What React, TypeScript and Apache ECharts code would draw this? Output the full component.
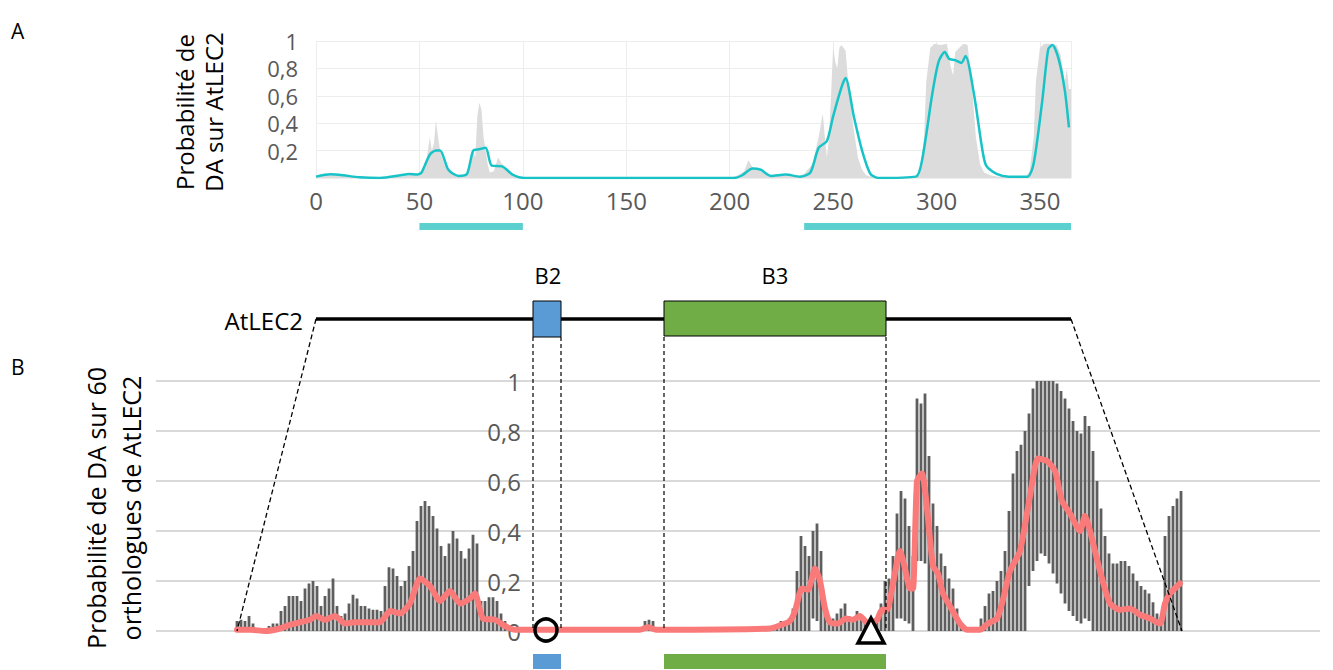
import React, { useEffect, useRef } from 'react';
import * as echarts from 'echarts';

// ---------- Panel A : AtLEC2 (amino-acid positions) ----------
const smoothPos = [0,7,13,21,31,41,45,49,51,55,58,60,64,69,73,76,79,82,85,90,95,101,195,202,206,211,215,220,227,234,239,243,247,250,254,256,260,264,268,272,290,293,298,301,304,306,309,312,314,318,322,324,329,335,344,347,351,354,356,359,362,364];
const smoothVal = [0.01,0.027,0.02,0.005,0,0.02,0.03,0.025,0.04,0.17,0.2,0.2,0.06,0.015,0.03,0.2,0.21,0.22,0.09,0.085,0.025,0,0,0,0.02,0.07,0.06,0.015,0.025,0.01,0.04,0.22,0.27,0.45,0.66,0.73,0.45,0.2,0.03,0,0.01,0.13,0.62,0.85,0.92,0.87,0.86,0.84,0.89,0.62,0.22,0.09,0.03,0.01,0.01,0.11,0.55,0.94,0.97,0.87,0.64,0.37];
const rawPos = [0,5,10,15,20,30,40,45,50,53,55,56,57,58,59,60,62,64,66,68,72,74,76,77,78,79,80,81,82,83,84,86,88,90,92,95,98,101,200,204,207,209,211,213,216,220,225,232,236,240,243,245,246,247,248,249,250,251,252,253,254,256,257,258,260,262,264,266,270,290,292,294,295,297,299,302,305,307,308,309,311,313,315,317,319,321,323,326,330,343,345,347,348,350,352,356,358,360,362,363,364,365];
const rawVal = [0.01,0.02,0.02,0.01,0.005,0,0.01,0.02,0.03,0.08,0.3,0.2,0.25,0.42,0.3,0.2,0.1,0.06,0.03,0.01,0.02,0.05,0.2,0.15,0.45,0.55,0.5,0.3,0.2,0.1,0.04,0.05,0.15,0.1,0.06,0.03,0.01,0,0,0.02,0.05,0.13,0.08,0.06,0.04,0.01,0.02,0.01,0.03,0.1,0.3,0.47,0.3,0.15,0.3,0.6,0.96,0.85,0.8,0.95,0.97,0.93,0.75,0.6,0.35,0.15,0.06,0.02,0,0,0.05,0.3,0.7,0.95,0.98,0.97,0.98,0.8,0.75,0.92,0.95,0.98,0.97,0.7,0.3,0.1,0.04,0.02,0.01,0.01,0.05,0.3,0.7,0.95,0.98,0.98,0.97,0.9,0.7,0.8,0.65,0.65];
const regionStart = [50, 236];
const regionEnd = [100, 365];
const aTicksY = [0, 0.2, 0.4, 0.6, 0.8, 1];

// ---------- Panel B : 60 orthologues (alignment columns) ----------
const colHigh = [
  0.04,0.045,0.04,0.06,0.03,0.01,0.005,0.005,0.02,0.03,
  0.03,0.08,0.1,0.14,0.14,0.14,0.12,0.17,0.19,0.2,
  0.18,0.1,0.14,0.17,0.21,0.1,0.06,0.07,0.11,0.145,
  0.13,0.1,0.1,0.09,0.085,0.085,0.08,0.18,0.255,0.25,
  0.22,0.18,0.2,0.26,0.32,0.44,0.5,0.52,0.5,0.46,
  0.41,0.34,0.3,0.35,0.4,0.37,0.32,0.29,0.33,0.385,
  0.35,0.12,0.12,0.135,0.135,0.12,0.07,0.04,0.01,0,
  0,0,0,0,0,0,0,0,0,0,
  0,0,0,0,0,0,0,0,0,0,
  0,0,0,0,0,0,0,0,0,0,
  0,0.01,0.04,0.045,0.04,0.005,0,0,0,0,
  0,0,0,0,0,0,0,0,0,0,
  0,0,0,0,0,0,0,0,0,0,
  0,0,0,0,0.01,0.02,0.04,0.04,0.05,0.09,
  0.24,0.38,0.34,0.3,0.4,0.43,0.32,0.07,0.05,0.05,
  0.07,0.09,0.11,0.06,0.04,0.08,0.06,0.035,0.03,0.02,
  0.05,0.11,0.2,0.21,0.3,0.47,0.56,0.53,0.42,0.3,
  0.93,0.91,0.95,0.7,0.51,0.42,0.31,0.26,0.21,0.17,
  0.09,0.02,0,0,0,0,0.05,0.1,0.15,0.16,
  0.2,0.24,0.32,0.48,0.63,0.72,0.745,0.8,0.87,0.97,
  1,1,1,1,1,0.99,0.96,0.93,0.89,0.84,
  0.8,0.79,0.86,0.82,0.72,0.6,0.49,0.38,0.31,0.27,
  0.27,0.28,0.28,0.26,0.23,0.2,0.18,0.165,0.15,0.115,
  0.07,0.035,0.38,0.46,0.5,0.53,0.56
];
const floatCols = [144,145,165,166,167,168,170,171,172,198,199,200,201,202,203,204,205,206,207,208,209,210,211,212,213];
const floatLows = [0.05,0.04,0.05,0.05,0.04,0.03,0.28,0.28,0.27,0.18,0.24,0.28,0.31,0.3,0.27,0.23,0.19,0.15,0.11,0.08,0.06,0.04,0.03,0.05,0.04];
const meanCols = [0,3.25,7,10.75,13.25,15.75,18.25,19.75,22,24.5,27,29.5,33.25,35.75,38.25,40.75,43.25,45.75,48.25,50.75,53.25,55.75,58.25,59.5,61.5,64.5,67,69.5,100.75,102.75,104.75,133.25,137,138.25,139.5,141.25,142.75,144.5,145.75,147,148.25,150.25,152.25,154,155.75,157.75,160,161.25,162.5,164,165.75,167,168.25,169,170,171.25,172.5,174,175.25,176.5,178.75,180.75,182.5,185.75,187.75,190,191.25,193.25,195.75,198.25,200.25,202.5,204.5,206.25,208.25,210.75,212,213.25,215.75,218.25,220.75,223.25,225.75,228.25,230.75,232,233.25,235.75];
const meanVals = [0.005,0.005,0,0.01,0.025,0.035,0.045,0.06,0.045,0.06,0.03,0.035,0.035,0.035,0.08,0.07,0.11,0.21,0.18,0.12,0.16,0.11,0.13,0.15,0.05,0.045,0.02,0.005,0.005,0.015,0.005,0.01,0.03,0.04,0.08,0.17,0.165,0.25,0.2,0.09,0.035,0.03,0.05,0.045,0.06,0.03,0.045,0.085,0.085,0.19,0.32,0.25,0.17,0.17,0.6,0.63,0.49,0.26,0.23,0.15,0.085,0.03,0.005,0.005,0.03,0.05,0.11,0.24,0.32,0.54,0.69,0.68,0.64,0.52,0.47,0.4,0.46,0.4,0.24,0.11,0.085,0.09,0.065,0.05,0.03,0.11,0.15,0.19];
const domainLabels = ['B2', 'B3'];

const FONT = "'Open Sans', 'Noto Sans', sans-serif";
const TICK = '#595959';
const fmt = (v: number) => String(Math.round(v * 10) / 10).replace('.', ',');

export default function App() {
  const ref = useRef<HTMLDivElement>(null);
  useEffect(() => {
    document.body.style.margin = '0';
    const chart = echarts.init(ref.current!, null, { renderer: 'svg' });
    const bars = colHigh.map((h, i) => {
      const k = floatCols.indexOf(i);
      return [i, k >= 0 ? floatLows[k] : 0, h];
    });
    chart.setOption({
      animation: false,
      backgroundColor: '#fff',
      textStyle: { fontFamily: FONT },
      grid: [
        { left: 316, top: 41, width: 755, height: 137, containLabel: false, outerBoundsMode: 'none' },
        { left: 156, top: 381, width: 1164, height: 250, containLabel: false, outerBoundsMode: 'none' },
      ],
      xAxis: [
        {
          gridIndex: 0, type: 'value', min: 0, max: 365, interval: 50,
          axisLine: { show: false }, axisTick: { show: false },
          axisLabel: { fontSize: 24, color: TICK, fontFamily: FONT, margin: 10, showMaxLabel: false },
          splitLine: { show: true, lineStyle: { color: '#ededed', width: 1 } },
        },
        { gridIndex: 1, type: 'value', min: -20.25, max: 270.75, show: false },
      ],
      yAxis: [
        {
          gridIndex: 0, type: 'value', min: aTicksY[0], max: aTicksY[aTicksY.length - 1], interval: 0.2,
          axisLine: { show: false }, axisTick: { show: false },
          axisLabel: { fontSize: 22, lineHeight: 18, color: TICK, fontFamily: FONT, margin: 18, formatter: (v: number) => (v === 0 ? '' : fmt(v)) },
          splitLine: { lineStyle: { color: '#ededed', width: 1 } },
        },
        {
          gridIndex: 1, type: 'value', min: 0, max: 1, interval: 0.2, offset: -369,
          axisLine: { show: false }, axisTick: { show: false },
          axisLabel: { fontSize: 24, color: TICK, fontFamily: FONT, margin: 4, formatter: (v: number) => fmt(v) },
          splitLine: { lineStyle: { color: '#d9d9d9', width: 2 } },
        },
      ],
      series: [
        {
          type: 'line', xAxisIndex: 0, yAxisIndex: 0, z: 1,
          data: rawPos.map((p, i) => [p, rawVal[i]]),
          showSymbol: false, lineStyle: { width: 0 }, areaStyle: { color: '#dcdcdc', opacity: 1 },
        },
        {
          type: 'line', xAxisIndex: 0, yAxisIndex: 0, z: 3,
          data: smoothPos.map((p, i) => [p, smoothVal[i]]),
          showSymbol: false, smooth: 0.25, lineStyle: { width: 2.5, color: '#18c3c8' },
        },
        {
          type: 'custom', xAxisIndex: 1, yAxisIndex: 1, z: 2,
          data: bars,
          encode: { x: 0, y: [1, 2] },
          renderItem: (_p: any, api: any) => {
            const c = api.value(0), lo = api.value(1), hi = api.value(2);
            if (hi <= lo) return null;
            const top = api.coord([c, hi]);
            const bot = api.coord([c, lo]);
            return { type: 'rect', shape: { x: top[0] - 1.4, y: top[1], width: 2.8, height: Math.max(0.5, bot[1] - top[1]) }, style: { fill: '#5e5e5e' } };
          },
        },
        {
          type: 'line', xAxisIndex: 1, yAxisIndex: 1, z: 4,
          data: meanCols.map((c, i) => [c, meanVals[i]]),
          showSymbol: false, smooth: 0.2,
          lineStyle: { width: 6, color: '#fa7a7a', cap: 'round', join: 'round' },
        },
      ],
    });

    const px = (v: number) => chart.convertToPixel({ xAxisIndex: 0 } as any, v) as number;
    const dash = { stroke: '#000', lineWidth: 1.3, lineDash: [5, 3] };
    const g: any[] = [];
    // panel letters and axis titles
    g.push({ type: 'text', x: 11, y: 20, z: 100, style: { text: 'A', fontSize: 21, fill: '#000', fontFamily: FONT } });
    g.push({ type: 'text', x: 11, y: 356, z: 100, style: { text: 'B', fontSize: 21, fill: '#000', fontFamily: FONT } });
    g.push({ type: 'text', x: 199, y: 112, rotation: Math.PI / 2, z: 100, style: { text: 'Probabilité de\nDA sur AtLEC2', fontSize: 24, lineHeight: 29, fill: '#000', fontFamily: FONT, align: 'center', verticalAlign: 'middle' } });
    g.push({ type: 'text', x: 113, y: 508, rotation: Math.PI / 2, z: 100, style: { text: 'Probabilité de DA sur 60\northologues de AtLEC2', fontSize: 25, lineHeight: 35, fill: '#000', fontFamily: FONT, align: 'center', verticalAlign: 'middle' } });
    // disordered regions under panel A
    regionStart.forEach((s, i) => {
      const x0 = px(s), x1 = px(regionEnd[i]);
      g.push({ type: 'rect', z: 100, shape: { x: x0, y: 223, width: x1 - x0, height: 7 }, style: { fill: '#5ccfcf' } });
    });
    // AtLEC2 protein diagram
    g.push({ type: 'text', x: 303, y: 320, z: 100, style: { text: 'AtLEC2', fontSize: 24, fill: '#000', fontFamily: FONT, align: 'right', verticalAlign: 'middle' } });
    g.push({ type: 'line', z: 100, shape: { x1: px(0), y1: 319, x2: px(365), y2: 319 }, style: { stroke: '#000', lineWidth: 3.5 } });
    g.push({ type: 'rect', z: 101, shape: { x: 533, y: 301, width: 28, height: 36 }, style: { fill: '#5b9bd5', stroke: '#000', lineWidth: 1 } });
    g.push({ type: 'rect', z: 101, shape: { x: 664, y: 301, width: 222, height: 35 }, style: { fill: '#70ad47', stroke: '#000', lineWidth: 1 } });
    g.push({ type: 'text', x: 548, y: 275, z: 100, style: { text: domainLabels[0], fontSize: 22, fill: '#000', fontFamily: FONT, align: 'center', verticalAlign: 'middle' } });
    g.push({ type: 'text', x: 775, y: 275, z: 100, style: { text: domainLabels[1], fontSize: 22, fill: '#000', fontFamily: FONT, align: 'center', verticalAlign: 'middle' } });
    // projection dashed lines
    g.push({ type: 'line', z: 100, shape: { x1: px(0), y1: 319, x2: 237, y2: 631 }, style: dash });
    g.push({ type: 'line', z: 100, shape: { x1: px(365), y1: 319, x2: 1182, y2: 631 }, style: dash });
    [533, 561, 664, 886].forEach((x) => {
      g.push({ type: 'line', z: 100, shape: { x1: x, y1: 337, x2: x, y2: 631 }, style: { stroke: '#000', lineWidth: 1.2, lineDash: [4, 3] } });
    });
    // markers
    g.push({ type: 'circle', z: 110, shape: { cx: 546, cy: 630, r: 11 }, style: { fill: 'none', stroke: '#000', lineWidth: 3.5 } });
    g.push({ type: 'polygon', z: 110, shape: { points: [[871, 618], [858, 643], [884, 643]] }, style: { fill: '#fff', stroke: '#000', lineWidth: 3.5 } });
    // domain bars under panel B
    g.push({ type: 'rect', z: 100, shape: { x: 533, y: 654, width: 28, height: 15 }, style: { fill: '#5b9bd5' } });
    g.push({ type: 'rect', z: 100, shape: { x: 664, y: 654, width: 222, height: 15 }, style: { fill: '#70ad47' } });
    chart.setOption({ graphic: g });

    return () => chart.dispose();
  }, []);
  return <div ref={ref} style={{ width: 1333, height: 670 }} />;
}
